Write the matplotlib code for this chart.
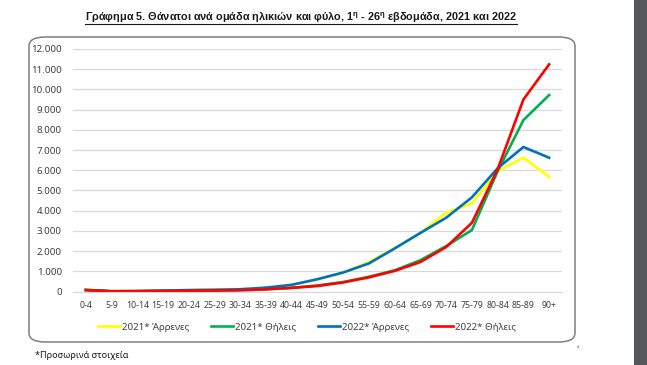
import matplotlib
matplotlib.use('Agg')
import matplotlib.pyplot as plt
from matplotlib.patches import FancyBboxPatch, Rectangle
from matplotlib.lines import Line2D
from matplotlib.ticker import FuncFormatter

plt.rcParams['font.family'] = ['Noto Sans', 'DejaVu Sans']
plt.rcParams['mathtext.fontset'] = 'custom'
plt.rcParams['mathtext.rm'] = 'Liberation Sans'
plt.rcParams['mathtext.bf'] = 'Liberation Sans:bold'

ages = ['0-4', '5-9', '10-14', '15-19', '20-24', '25-29', '30-34', '35-39', '40-44',
        '45-49', '50-54', '55-59', '60-64', '65-69', '70-74', '75-79', '80-84', '85-89', '90+']
m2021 = [95, 15, 20, 45, 70, 85, 110, 190, 330, 590, 950, 1450, 2150, 2900, 3900, 4360, 5950, 6620, 5680]
f2021 = [70, 10, 15, 25, 35, 45, 65, 110, 180, 300, 470, 730, 1050, 1550, 2250, 3040, 5950, 8480, 9720]
m2022 = [80, 15, 20, 45, 70, 85, 110, 190, 330, 610, 940, 1390, 2130, 2900, 3650, 4660, 6100, 7150, 6620]
f2022 = [70, 10, 15, 25, 35, 45, 65, 110, 180, 270, 450, 700, 1020, 1460, 2200, 3400, 6050, 9500, 11240]
labels = ['2021* Άρρενες', '2021* Θήλεις', '2022* Άρρενες', '2022* Θήλεις']
colors = ['#ffff00', '#00b050', '#0070c0', '#ff0000']

W, H = 647, 365
fig = plt.figure(figsize=(W / 100, H / 100), dpi=100)

# chart frame (rounded)
fig.patches.append(FancyBboxPatch((29 / W, 1 - 342 / H), 546 / W, 305 / H,
                                  boxstyle='round,pad=0,rounding_size=0.025',
                                  transform=fig.transFigure, fc='none', ec='#7f7f7f', lw=1.1))
# dark side strip
fig.patches.append(Rectangle((634 / W, 0), 13 / W, 1, transform=fig.transFigure,
                             fc='#54585b', ec='none'))

ax = fig.add_axes([73 / W, 1 - 291.5 / H, 489 / W, 242.5 / H])
ax.patch.set_alpha(0)
x = list(range(len(ages)))
for ys, c, lab in zip([m2021, f2021, m2022, f2022], colors, labels):
    ax.plot(x, ys, color=c, lw=1.9, label=lab, solid_joinstyle='round')

ax.set_xlim(-0.5, len(ages) - 0.5)
ax.set_ylim(0, 12000)
ax.set_yticks(range(0, 12001, 1000))
ax.yaxis.set_major_formatter(FuncFormatter(lambda v, p: f'{int(v):,}'.replace(',', '.')))
ax.set_xticks(x)
ax.set_xticklabels(ages)
ax.grid(axis='y', color='#d9d9d9', lw=0.9)
ax.set_axisbelow(True)
for s in ['top', 'right', 'left']:
    ax.spines[s].set_visible(False)
ax.spines['bottom'].set_color('#d9d9d9')
ax.tick_params(axis='y', length=0, labelsize=7, colors='#404040', pad=8)
ax.tick_params(axis='x', length=0, labelsize=6.3, colors='#404040', pad=7)

fig.legend(loc='center', bbox_to_anchor=(307 / W, 1 - 327 / H), ncol=4, frameon=False,
           fontsize=7, handlelength=2.3, handletextpad=0.2, columnspacing=2.2,
           labelcolor='#404040')

title = fig.text(301 / W, 1 - 18 / H,
                 'Γράφημα 5. Θάνατοι ανά ομάδα ηλικιών και φύλο, 1$^{\\mathbf{η}}$ - 26$^{\\mathbf{η}}$ εβδομάδα, 2021 και 2022',
                 ha='center', va='center', fontsize=7.8, fontweight='bold', color='#1a1a1a',
                 family=['Liberation Sans', 'DejaVu Sans'])
fig.canvas.draw()
bb = title.get_window_extent().transformed(fig.transFigure.inverted())
fig.add_artist(Line2D([bb.x0, bb.x1], [bb.y0 + 0.002, bb.y0 + 0.002], transform=fig.transFigure,
                      color='#1a1a1a', lw=0.8))

fig.text(35 / W, 1 - 355 / H, '*Προσωρινά στοιχεία', fontsize=6.5, va='center', color='#1a1a1a')
fig.text(577 / W, 1 - 344 / H, ',', fontsize=7, va='center', color='#1f3b7a')

fig.savefig('out.png', dpi=100)
